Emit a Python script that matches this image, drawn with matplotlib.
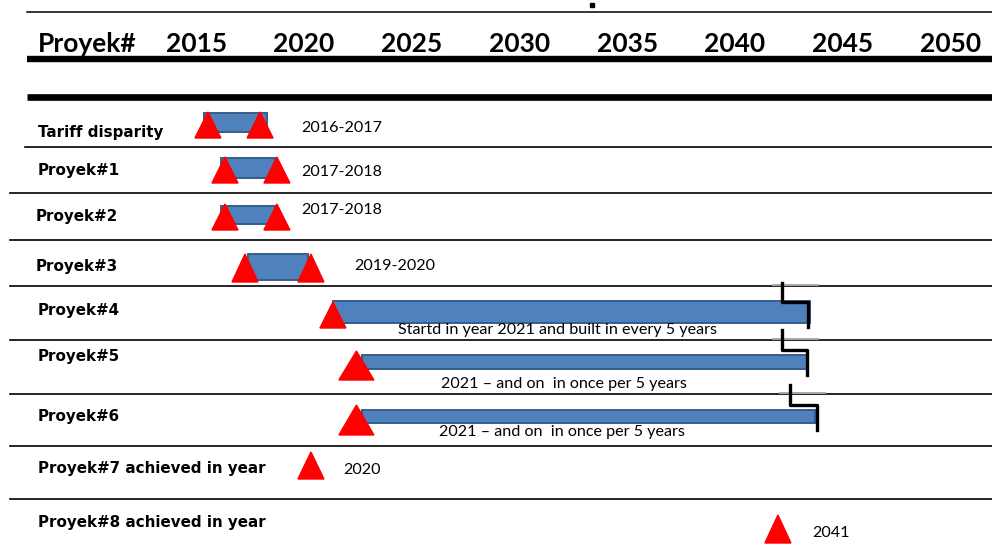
import matplotlib
matplotlib.use('Agg')
import matplotlib.pyplot as plt

# rows of the schedule
names = ['Tariff disparity', 'Proyek#1', 'Proyek#2', 'Proyek#3', 'Proyek#4',
         'Proyek#5', 'Proyek#6', 'Proyek#7 achieved in year', 'Proyek#8 achieved in year']
bar_start = [2015.36, 2016.15, 2016.15, 2017.40, 2021.34, 2022.69, 2022.69, None, None]
bar_end = [2018.28, 2018.65, 2018.65, 2020.18, 2043.48, 2043.34, 2043.71, None, None]
milestones = [[2015.54, 2017.96], [2016.33, 2018.74], [2016.33, 2018.74], [2017.26, 2020.32],
              [2021.34], [2022.43], [2022.43], [2020.32], [2041.99]]
notes = ['2016-2017', '2017-2018', '2017-2018', '2019-2020',
         'Startd in year 2021 and built in every 5 years',
         '2021 \u2013 and on  in once per 5 years', '2021 \u2013 and on  in once per 5 years',
         '2020', '2041']
# break marks at the end of the long bars (row index, x1, x2)
breaks = [(4, 2042.18, 2043.39), (5, 2042.18, 2043.34), (6, 2042.55, 2043.80)]
header_years = [2015, 2020, 2025, 2030, 2035, 2040, 2045, 2050]

# layout, in pixels of the 992x550 picture
PX_PER_YEAR = 21.55
X0 = 2015 - 196.3 / PX_PER_YEAR
def X(px):
    return X0 + px / PX_PER_YEAR

label_xy = [(38, 133), (38, 170), (36, 216), (36, 266), (38, 311), (38, 357), (38, 416), (38, 469), (38, 523)]
bar_y = [122.5, 168, 215, 267, 312, 362, 416.5, None, None]
bar_h = [19, 20, 18, 26, 22, 14, 13, None, None]
tri_base = [138, 183, 230, 282, 328, 380, 435, 479, 543]
tri_top = [112, 157, 204, 254, 302, 351, 405, 452, 515]
tri_w = [26, 26, 26, 26, 26, 35, 35, 26, 26]
note_xy = [(301, 128, 'left'), (301, 172, 'left'), (301, 210, 'left'), (354, 266, 'left'),
           (557, 330, 'center'), (564, 384, 'center'), (562, 432, 'center'),
           (343, 470, 'left'), (812, 533, 'left')]
break_y = [(283, 302, 327), (330, 350, 375), (385, 405, 430)]
grey_seg = [(773, 818, 285), (773, 818, 339), (780, 825, 393)]
row_lines = [(147, 25), (193, 10), (240, 10), (286, 10), (340, 10), (394, 10), (446, 10), (499, 10)]

fig = plt.figure(figsize=(9.92, 5.5), dpi=100)
ax = fig.add_axes([0, 0, 1, 1])
ax.set_xlim(X(0), X(992))
ax.set_ylim(550, 0)
ax.axis('off')

# header
ax.plot([X(27), X(992)], [12, 12], color='black', lw=1.1)
ax.plot([X(592)], [5], marker='s', color='black', ms=2.2)
ax.text(X(38), 44, 'Proyek#', fontsize=19, fontweight='bold', family='Lato', va='center')
for yr in header_years:
    ax.text(yr, 44, str(yr), fontsize=19, fontweight='bold', family='Lato', ha='center', va='center')
ax.plot([X(27), X(992)], [58.5, 58.5], color='black', lw=4.6, solid_capstyle='butt')
ax.plot([X(27), X(992)], [96.5, 96.5], color='black', lw=4.8, solid_capstyle='butt')

for y, x0 in row_lines:
    ax.plot([X(x0), X(992)], [y, y], color='black', lw=1.2)
for x1, x2, y in grey_seg:
    ax.plot([X(x1), X(x2)], [y, y], color='#a8a8a8', lw=1.4)

for i, name in enumerate(names):
    lx, ly = label_xy[i]
    ax.text(X(lx), ly, name, fontsize=10.9, fontweight='bold', family='DejaVu Sans', va='center')
    if bar_start[i] is not None:
        ax.barh(bar_y[i], bar_end[i] - bar_start[i], left=bar_start[i], height=bar_h[i],
                color='#4f81bd', edgecolor='#385d8a', lw=1.4, zorder=2)
    hw = tri_w[i] / 2 / PX_PER_YEAR
    for m in milestones[i]:
        ax.fill([m - hw, m, m + hw], [tri_base[i], tri_top[i], tri_base[i]],
                color='#ff0000', zorder=3)
    nx, ny, ha = note_xy[i]
    ax.text(X(nx), ny, notes[i], fontsize=11.6, family='Lato', ha=ha, va='center')

for (i, x1, x2), (ya, yb, yc) in zip(breaks, break_y):
    ax.plot([x1, x1, x2, x2], [ya, yb, yb, yc], color='black', lw=2.4, zorder=4)

fig.savefig('out.png', dpi=100)
